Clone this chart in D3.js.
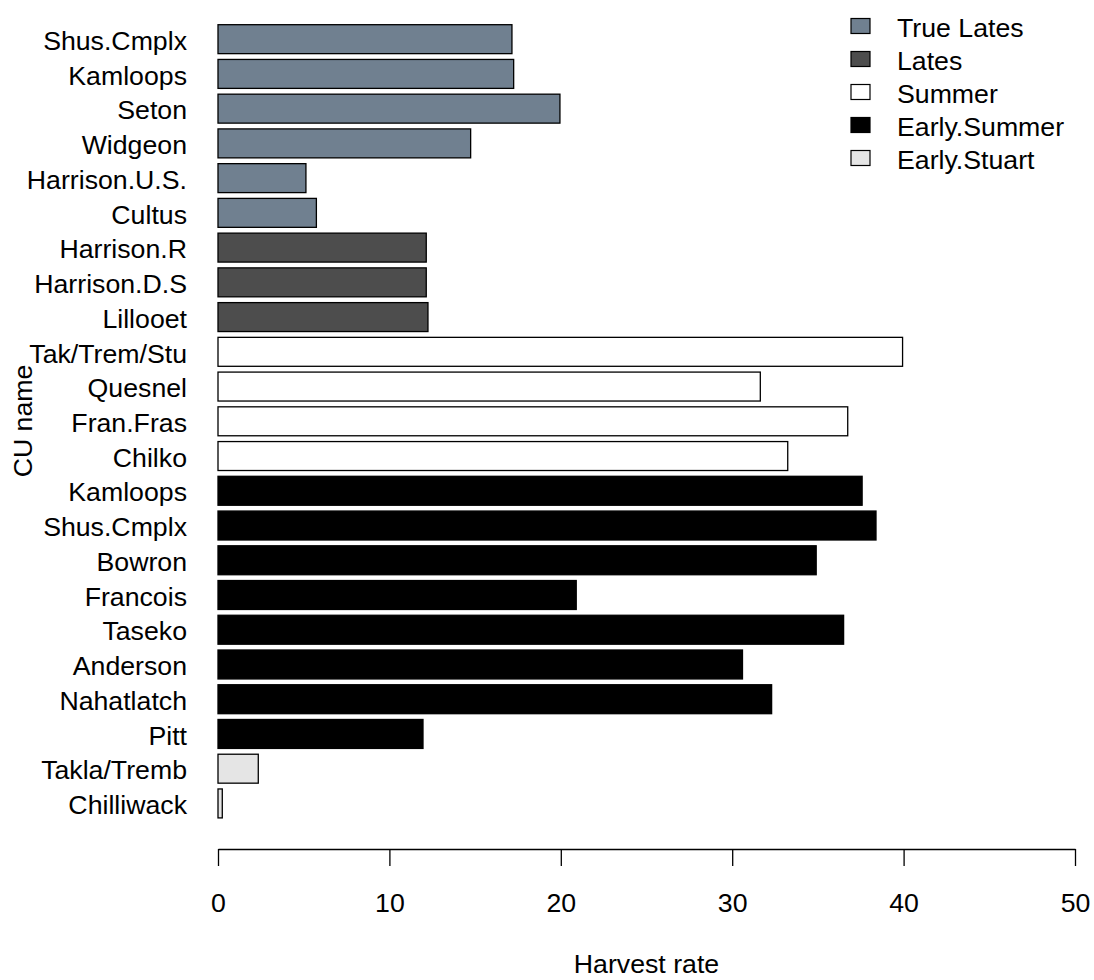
<!DOCTYPE html>
<html>
<head>
<meta charset="utf-8">
<script src="https://cdn.jsdelivr.net/npm/d3@7"></script>
<style>
  body { margin: 0; background: #fff; }
  text { font-family: "Liberation Sans", Arial, sans-serif; }
</style>
</head>
<body>
<script>
// CU names, top to bottom, with their run-timing group and harvest rate
var cuNames = ["Shus.Cmplx", "Kamloops", "Seton", "Widgeon", "Harrison.U.S.", "Cultus",
    "Harrison.R", "Harrison.D.S", "Lillooet",
    "Tak/Trem/Stu", "Quesnel", "Fran.Fras", "Chilko",
    "Kamloops", "Shus.Cmplx", "Bowron", "Francois", "Taseko", "Anderson", "Nahatlatch", "Pitt",
    "Takla/Tremb", "Chilliwack"];
var cuGroups = ["True Lates", "True Lates", "True Lates", "True Lates", "True Lates", "True Lates",
    "Lates", "Lates", "Lates",
    "Summer", "Summer", "Summer", "Summer",
    "Early.Summer", "Early.Summer", "Early.Summer", "Early.Summer", "Early.Summer",
    "Early.Summer", "Early.Summer", "Early.Summer",
    "Early.Stuart", "Early.Stuart"];
var harvestRates = [17.15, 17.25, 19.95, 14.74, 5.13, 5.74,
    12.15, 12.15, 12.25,
    39.94, 31.64, 36.74, 33.24,
    37.58, 38.39, 34.9, 20.9, 36.5, 30.6, 32.3, 11.96,
    2.35, 0.25];

var groupNames = ["True Lates", "Lates", "Summer", "Early.Summer", "Early.Stuart"];
var groupColors = ["#708090", "#4d4d4d", "#ffffff", "#000000", "#e5e5e5"];
var xTicks = [0, 10, 20, 30, 40, 50];

var data = cuNames.map(function(name, i) {
    return { key: i, name: name, group: cuGroups[i], value: harvestRates[i] };
});

var width = 1094, height = 980;
var fontSize = "26.7px";

var svg = d3.select("body").append("svg")
    .attr("width", width)
    .attr("height", height);

// x: harvest rate, y: one band per CU (same gaps as R barplot, space = 0.2)
var xScale = d3.scaleLinear().domain([0, 50]).range([218, 1075]);
var yScale = d3.scaleBand()
    .domain(data.map(function(d) { return d.key; }))
    .range([21.8, 820.8])
    .paddingInner(0.2 / 1.2)
    .paddingOuter(0.1 / 1.2);

var color = d3.scaleOrdinal().domain(groupNames).range(groupColors);

svg.append("g")
    .selectAll("rect")
    .data(data)
    .enter()
    .append("rect")
    .attr("x", xScale(0))
    .attr("y", function(d) { return yScale(d.key); })
    .attr("width", function(d) { return xScale(d.value) - xScale(0); })
    .attr("height", yScale.bandwidth())
    .attr("fill", function(d) { return color(d.group); })
    .attr("stroke", "#000")
    .attr("stroke-width", 1.3);

// CU names on the left, no axis line
var yAxis = d3.axisLeft(yScale)
    .tickSize(0)
    .tickPadding(31)
    .tickFormat(function(k) { return cuNames[k]; });

svg.append("g")
    .attr("class", "y axis")
    .attr("transform", "translate(" + xScale(0) + ",0)")
    .call(yAxis)
    .call(function(g) { g.select(".domain").remove(); })
    .selectAll("text")
    .attr("dy", "0.4em")
    .attr("font-size", fontSize)
    .attr("fill", "#000")
    .style("font-family", "'Liberation Sans', Arial, sans-serif");

// Harvest rate axis
var xAxis = d3.axisBottom(xScale)
    .tickValues(xTicks)
    .tickSizeInner(17)
    .tickSizeOuter(0)
    .tickPadding(27.5);

var xg = svg.append("g")
    .attr("class", "x axis")
    .attr("transform", "translate(0,849)")
    .call(xAxis);
xg.select(".domain").attr("stroke", "#000").attr("stroke-width", 1.3);
xg.selectAll(".tick line").attr("stroke", "#000").attr("stroke-width", 1.3);
xg.selectAll("text")
    .attr("font-size", fontSize)
    .attr("fill", "#000")
    .style("font-family", "'Liberation Sans', Arial, sans-serif");

// axis titles
svg.append("text")
    .text("Harvest rate")
    .attr("x", (xScale(0) + xScale(50)) / 2)
    .attr("y", 973)
    .attr("font-size", fontSize)
    .attr("text-anchor", "middle");

svg.append("text")
    .text("CU name")
    .attr("transform", "translate(32,421) rotate(-90)")
    .attr("font-size", fontSize)
    .attr("text-anchor", "middle");

// legend, top right
var legend = svg.append("g")
    .attr("transform", "translate(851,0)");

var legendRows = legend.selectAll("g")
    .data(groupNames)
    .enter()
    .append("g")
    .attr("transform", function(d, i) { return "translate(0," + (26 + i * 33) + ")"; });

legendRows.append("rect")
    .attr("x", 0)
    .attr("y", -7.5)
    .attr("width", 19)
    .attr("height", 15)
    .attr("fill", function(d) { return color(d); })
    .attr("stroke", "#000")
    .attr("stroke-width", 1.2);

legendRows.append("text")
    .text(function(d) { return d; })
    .attr("x", 46)
    .attr("y", 11)
    .attr("font-size", fontSize);
</script>
</body>
</html>
